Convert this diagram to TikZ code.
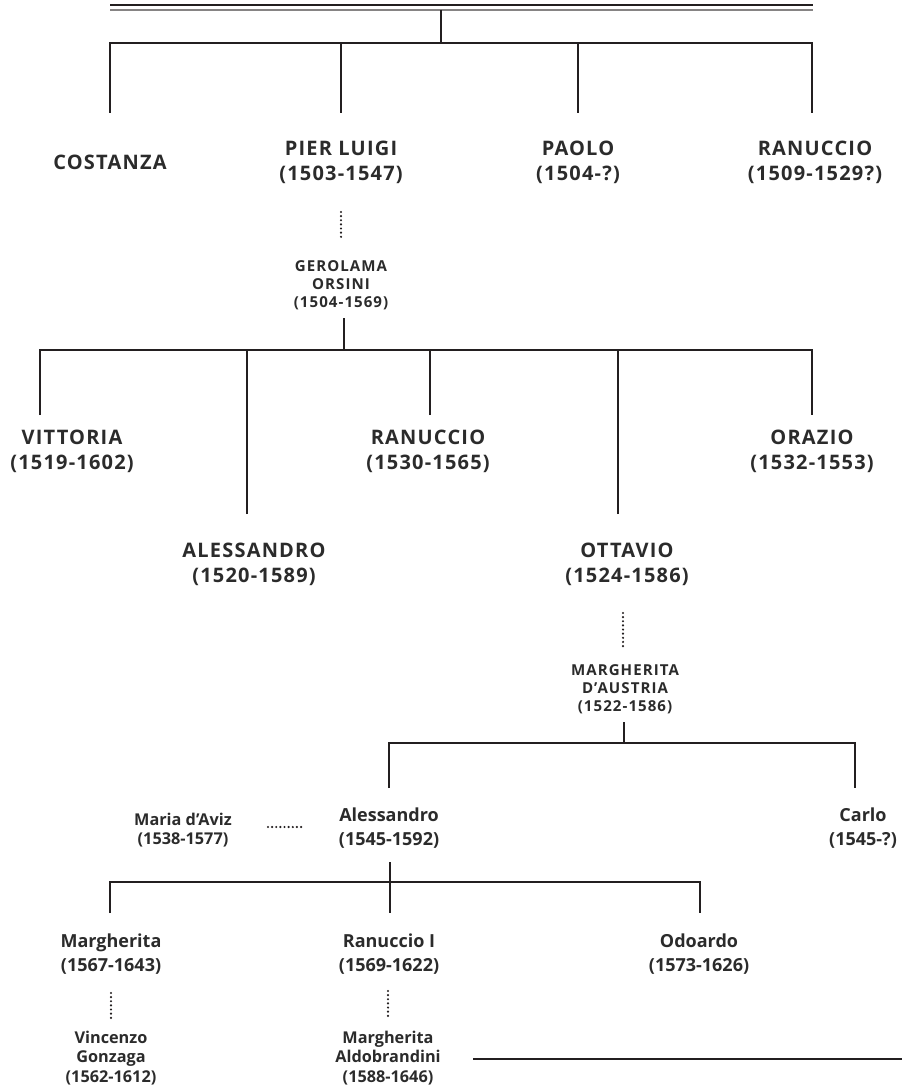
\documentclass[tikz,border=0pt]{standalone}
\usepackage{fontspec}
\setmainfont{Open Sans}
\definecolor{ink}{HTML}{2B2B2B}
\definecolor{rule}{HTML}{231F20}
\tikzset{
        bigname/.style={font=\bfseries\fontsize{15}{18.75}\selectfont\addfontfeature{LetterSpace=6}, align=center, text=ink, inner sep=0pt},
        smallname/.style={font=\bfseries\fontsize{11.3}{13.5}\selectfont\addfontfeature{LetterSpace=7}, align=center, text=ink, inner sep=0pt},
        midname/.style={font=\bfseries\fontsize{13.5}{17.5}\selectfont, align=center, text=ink, inner sep=0pt},
        lowname/.style={font=\bfseries\fontsize{12.2}{14.5}\selectfont, align=center, text=ink, inner sep=0pt},
        branch/.style={draw=rule, line width=1.9pt},
        wedlock/.style={draw=rule, line width=1.8pt, line cap=round, dash pattern=on 0pt off 3.1pt}
    }

\begin{document}
\begin{tikzpicture}[x=0.75pt, y=-0.75pt]
            \useasboundingbox (0, 0) rectangle (902, 1087);

            % generation 1
            \node [bigname] (costanza)  at (110, 162) {COSTANZA};
            \node [bigname] (pierluigi) at (341, 162) {PIER LUIGI\\(1503-1547)};
            \node [bigname] (paolo)     at (578, 162) {PAOLO\\(1504-?)};
            \node [bigname] (ranuccio1) at (815, 162) {RANUCCIO\\(1509-1529?)};
            \node [smallname] (gerolama) at (341, 285) {GEROLAMA\\ORSINI\\(1504-1569)};

            % generation 2
            \node [bigname] (vittoria)   at (72, 451)  {VITTORIA\\(1519-1602)};
            \node [bigname] (ranuccio2)  at (428, 451) {RANUCCIO\\(1530-1565)};
            \node [bigname] (orazio)     at (812, 451) {ORAZIO\\(1532-1553)};
            \node [bigname] (alessandro1) at (254, 564) {ALESSANDRO\\(1520-1589)};
            \node [bigname] (ottavio)    at (627, 564) {OTTAVIO\\(1524-1586)};
            \node [smallname] (margaustria) at (625, 689) {MARGHERITA\\D’AUSTRIA\\(1522-1586)};

            % generation 3
            \node [midname] (alessandro2) at (389, 828) {Alessandro\\(1545-1592)};
            \node [midname] (carlo)       at (863, 828) {Carlo\\(1545-?)};
            \node [lowname] (mariaaviz)   at (183, 830) {Maria d’Aviz\\(1538-1577)};

            % generation 4
            \node [midname] (margherita) at (111, 954) {Margherita\\(1567-1643)};
            \node [midname] (ranuccioI)  at (389, 954) {Ranuccio I\\(1569-1622)};
            \node [midname] (odoardo)    at (699, 954) {Odoardo\\(1573-1626)};
            \node [lowname] (vincenzo)   at (111, 1058) {Vincenzo\\Gonzaga\\(1562-1612)};
            \node [lowname] (aldobrandini) at (388, 1058) {Margherita\\Aldobrandini\\(1588-1646)};

            % junctions and line ends
            \coordinate (top)   at (441, 10);
            \coordinate (bar1)  at (441, 43);
            \coordinate (d-costanza)  at (110, 113);
            \coordinate (d-pierluigi) at (341, 113);
            \coordinate (d-paolo)     at (578, 113);
            \coordinate (d-ranuccio1) at (812, 113);
            \coordinate (s-pierluigi) at (341, 212);
            \coordinate (s-gerolama)  at (341, 238);

            \coordinate (top2)  at (344, 318);
            \coordinate (bar2)  at (344, 350);
            \coordinate (d-vittoria)    at (40, 415);
            \coordinate (d-alessandro1) at (247, 514);
            \coordinate (d-ranuccio2)   at (430, 415);
            \coordinate (d-ottavio)     at (618, 514);
            \coordinate (d-orazio)      at (812, 415);
            \coordinate (s-ottavio)     at (623, 613);
            \coordinate (s-margaustria) at (623, 647);

            \coordinate (top3)  at (624, 722);
            \coordinate (bar3)  at (624, 743);
            \coordinate (d-alessandro2) at (389, 788);
            \coordinate (d-carlo)       at (855, 788);
            \coordinate (s-mariaaviz)   at (268, 827);
            \coordinate (s-alessandro2) at (303, 827);

            \coordinate (top4)  at (390, 862);
            \coordinate (bar4)  at (390, 882);
            \coordinate (d-margherita) at (110, 913);
            \coordinate (d-ranuccioI)  at (390, 913);
            \coordinate (d-odoardo)    at (700, 913);
            \coordinate (s-margherita) at (111, 993);
            \coordinate (s-vincenzo)   at (111, 1018);
            \coordinate (s-ranuccioI)  at (388, 991);
            \coordinate (s-aldobrandini) at (388, 1018);
            \coordinate (l-aldobrandini) at (473, 1059);
            \coordinate (l-edge)         at (902, 1059);

            % double rule on top
            \draw [draw=rule, line width=0.9pt] (110, 5) -- (813, 5);
            \draw [draw=rule!55, line width=1.3pt] (110, 10) -- (813, 10);

            \draw [branch] (top) -- (bar1);
            \draw [branch] (d-costanza) |- (bar1) -| (d-ranuccio1);
            \draw [branch] (d-pierluigi) -- (d-pierluigi |- bar1);
            \draw [branch] (d-paolo) -- (d-paolo |- bar1);
            \draw [wedlock] (s-pierluigi) -- (s-gerolama);

            \draw [branch] (top2) -- (bar2);
            \draw [branch] (d-vittoria) |- (bar2) -| (d-orazio);
            \draw [branch] (d-alessandro1) -- (d-alessandro1 |- bar2);
            \draw [branch] (d-ranuccio2) -- (d-ranuccio2 |- bar2);
            \draw [branch] (d-ottavio) -- (d-ottavio |- bar2);
            \draw [wedlock] (s-ottavio) -- (s-margaustria);

            \draw [branch] (top3) -- (bar3);
            \draw [branch] (d-alessandro2) |- (bar3) -| (d-carlo);
            \draw [wedlock] (s-mariaaviz) -- (s-alessandro2);

            \draw [branch] (top4) -- (d-ranuccioI);
            \draw [branch] (d-margherita) |- (bar4) -| (d-odoardo);
            \draw [wedlock] (s-margherita) -- (s-vincenzo);
            \draw [wedlock] (s-ranuccioI) -- (s-aldobrandini);
            \draw [branch] (l-aldobrandini) -- (l-edge);
        \end{tikzpicture}
\end{document}
